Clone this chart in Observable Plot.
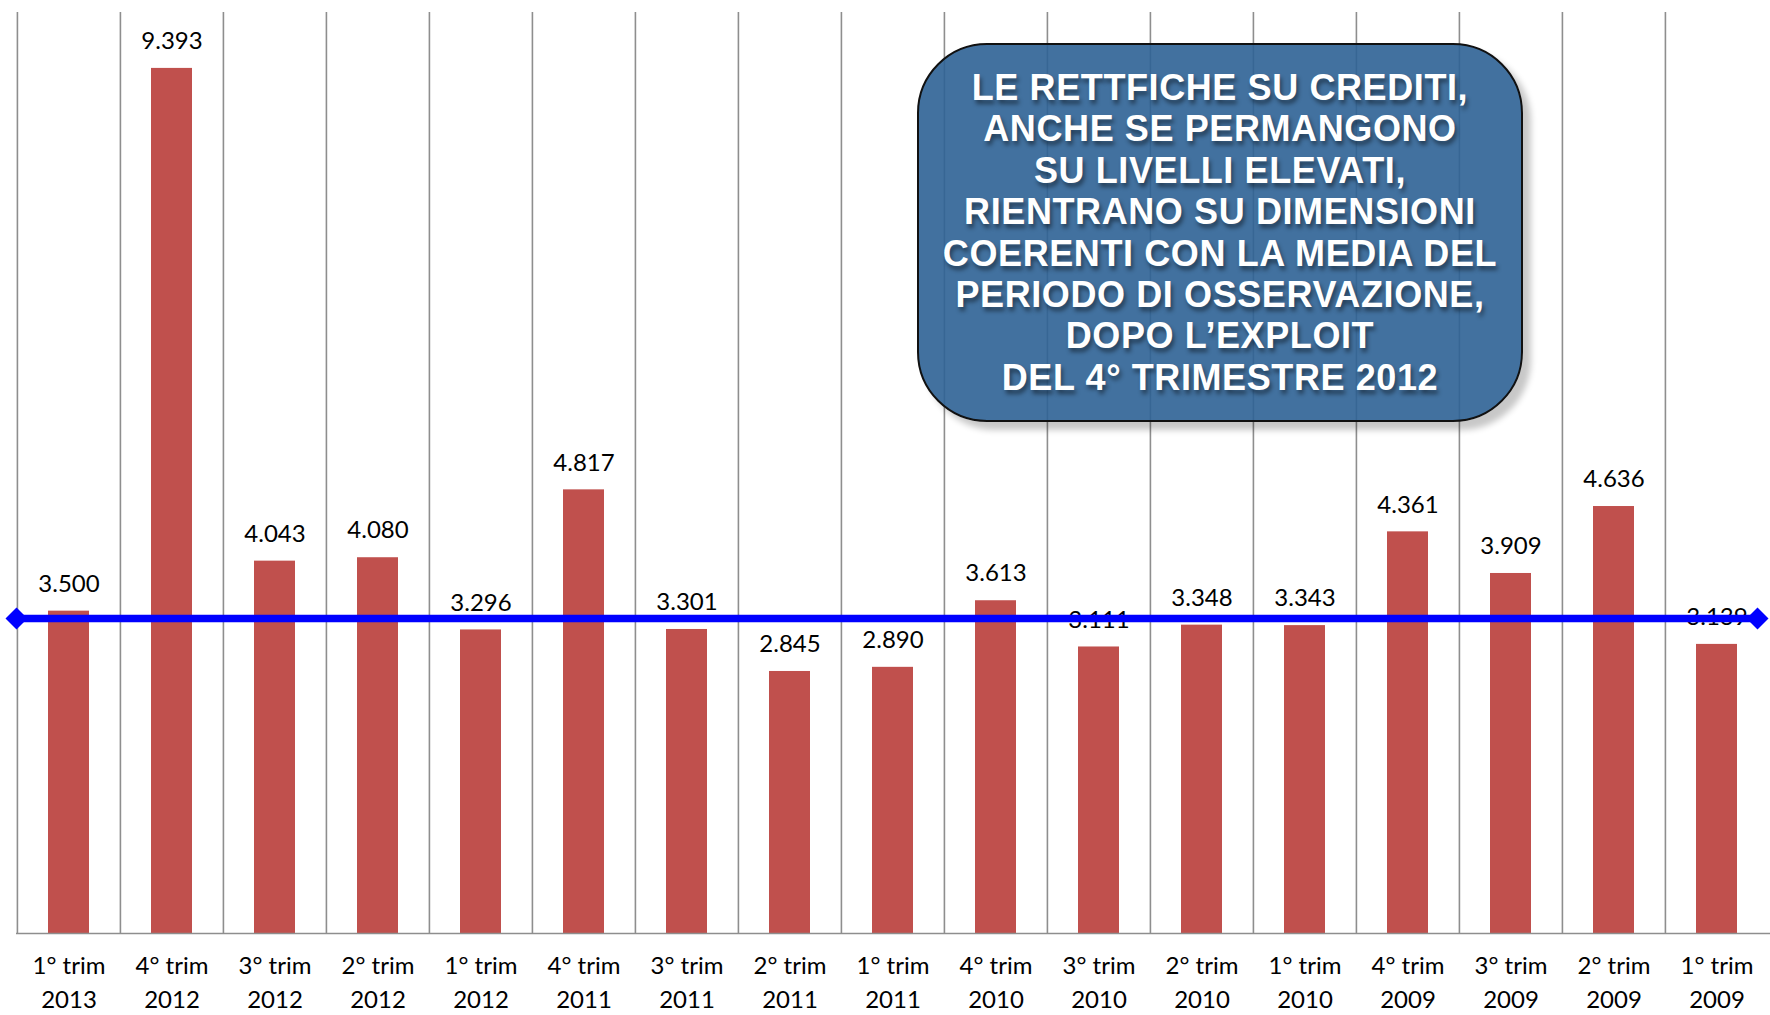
<!DOCTYPE html>
<html><head><meta charset="utf-8">
<script src="https://cdn.jsdelivr.net/npm/d3@7"></script>
<script src="https://cdn.jsdelivr.net/npm/@observablehq/plot@0.6"></script>
<style>
html,body{margin:0;padding:0;background:#fff;overflow:hidden;}
#wrap{position:relative;width:1770px;height:1015px;}
#note{position:absolute;left:917px;top:43px;width:606px;height:379px;box-sizing:border-box;border:2.5px solid #111;border-radius:70px;background:rgba(45,98,149,0.9);box-shadow:8px 8px 6px rgba(0,0,0,0.22);display:flex;align-items:center;justify-content:center;text-align:center;color:#fff;font-family:"Liberation Sans",Arial,sans-serif;font-weight:bold;font-size:36px;line-height:41.4px;letter-spacing:0.6px;text-shadow:2px 4px 4px rgba(0,0,0,0.45);}
</style></head><body><div id="wrap"></div>
<script>
const quarters = ["1° trim","4° trim","3° trim","2° trim","1° trim","4° trim","3° trim","2° trim","1° trim","4° trim","3° trim","2° trim","1° trim","4° trim","3° trim","2° trim","1° trim"];
const years = ["2013","2012","2012","2012","2012","2011","2011","2011","2011","2010","2010","2010","2010","2009","2009","2009","2009"];
const values = [3500, 9393, 4043, 4080, 3296, 4817, 3301, 2845, 2890, 3613, 3111, 3348, 3343, 4361, 3909, 4636, 3139];
const meanLevel = [3420];
const yDomain = [0, 10000];
const noteLines = [
  "LE RETTFICHE SU CREDITI,",
  "ANCHE SE PERMANGONO",
  "SU LIVELLI ELEVATI,",
  "RIENTRANO SU DIMENSIONI",
  "COERENTI CON LA MEDIA DEL",
  "PERIODO DI OSSERVAZIONE,",
  "DOPO L’EXPLOIT",
  "DEL 4° TRIMESTRE 2012"
];

const categories = quarters.map((q, i) => q + " " + years[i]);
const data = categories.map((c, i) => ({cat: c, q: quarters[i], yr: years[i], v: values[i]}));
const fmt = d3.formatLocale({decimal: ",", thousands: ".", grouping: [3], currency: ["", "€"]}).format(",");

const W = 1770, H = 1015;
const mL = 16, mR = 0, mT = 12, mB = 82;
const step = (W - mL - mR) / categories.length;
const gridColor = "#8e8e8e";
const blue = "#0000ff";

const chart = Plot.plot({
  width: W, height: H,
  marginLeft: mL, marginRight: mR, marginTop: mT, marginBottom: mB,
  style: {fontFamily: "Lato, 'Open Sans', sans-serif", fontSize: "24px", color: "#000", background: "#fff"},
  x: {type: "band", domain: categories, paddingInner: 0.6, paddingOuter: 0.3, label: null, axis: null},
  y: {domain: yDomain, axis: null},
  marks: [
    Plot.ruleX(categories, {x: d => d, y1: yDomain[0], y2: yDomain[1], dx: -step / 2, stroke: gridColor, strokeWidth: 1.6}),
    Plot.barY(data, {x: "cat", y: "v", fill: "#C0504D"}),
    Plot.ruleY([0], {stroke: gridColor, strokeWidth: 1.6}),
    Plot.text(data, {x: "cat", y: "v", text: d => fmt(d.v), dy: -27, fill: "#000", fontSize: 24}),
    Plot.ruleY(meanLevel, {y: d => d, stroke: blue, strokeWidth: 7.5, insetRight: 13}),
    Plot.dot(meanLevel, {y: d => d, frameAnchor: "left", symbol: "square", rotate: 45, r: 8.8, fill: blue, stroke: "none"}),
    Plot.dot(meanLevel, {y: d => d, frameAnchor: "right", dx: -13, symbol: "square", rotate: 45, r: 8.8, fill: blue, stroke: "none"}),
    Plot.text(data, {x: "cat", text: d => d.q + "\n" + d.yr, frameAnchor: "bottom", lineAnchor: "top", dy: 17, lineHeight: 1.39, fontSize: 24, fill: "#000"})
  ]
});

const wrap = document.getElementById("wrap");
wrap.appendChild(chart);
const note = document.createElement("div");
note.id = "note";
note.innerHTML = "<div>" + noteLines.join("<br>") + "</div>";
wrap.appendChild(note);
</script>
</body></html>
